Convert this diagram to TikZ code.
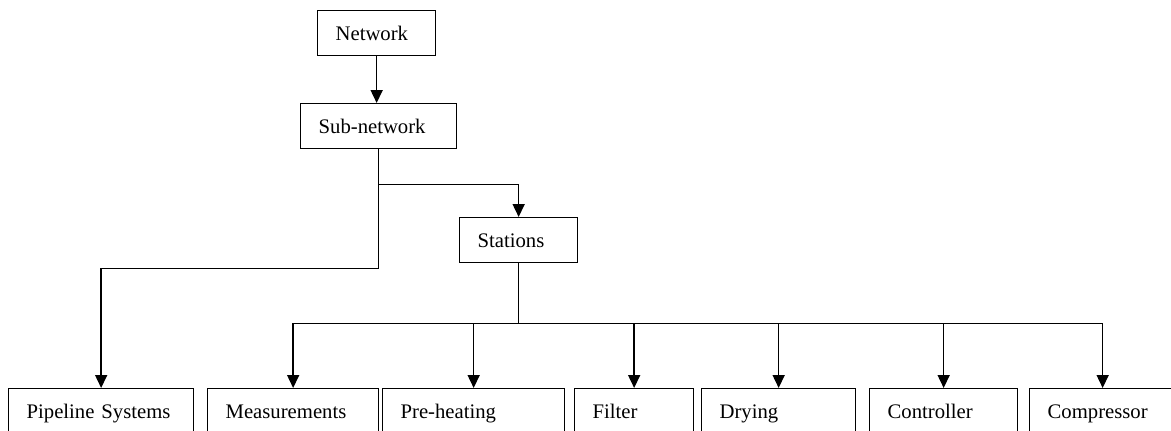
\documentclass[tikz,border=0pt]{standalone}
\usepackage{fontspec}
\setmainfont{Liberation Serif}
\usetikzlibrary{arrows.meta}
\tikzset{block/.style={draw, line width=1.3pt, anchor=north west, minimum height=45pt, inner xsep=18pt, text width=#1, text height=18pt, text depth=3pt, align=left, font=\fontsize{20.7}{24}\selectfont}}

\begin{document}
\begin{tikzpicture}[x=1pt, y=-1pt, >={Triangle[width=12pt,length=13pt]}]
          \useasboundingbox (0,0) rectangle (1171,431);
          \clip (0,0) rectangle (1171,431);

          \node[block=82pt] (Network) at (317,10) {Network};
          \node[block=120pt] (SubNetwork) at (300,103) {Sub-network};
          \node[block=82pt] (Stations) at (459,217) {Stations};

          \node[block=149pt] (Pipeline) at (8,388) {Pipeline Systems};
          \node[block=135pt] (Measurements) at (207,388) {Measurements};
          \node[block=146pt] (Preheating) at (382,388) {Pre-heating};
          \node[block=83pt] (Filter) at (574,388) {Filter};
          \node[block=118pt] (Drying) at (701,388) {Drying};
          \node[block=112pt] (Controller) at (869,388) {Controller};
          \node[block=110pt] (Compressor) at (1029,388) {Compressor};

          \draw[->, line width=1.6pt] (Network.south) to (Network.south |- SubNetwork.north);
          \draw[->, line width=1.6pt] (SubNetwork.south) -- ++(0,35) -| (Stations.north);
          \draw[->, line width=1.6pt] (SubNetwork.south) -- ++(0,119) -| (Pipeline.north);
          \draw[line width=1.6pt] (Stations.south) -- ++(0,60) coordinate (StationsFork);
          \draw[line width=1.6pt] (Measurements.north |- StationsFork) -- (Compressor.north |- StationsFork);
          \foreach \part in {Measurements,Preheating,Filter,Drying,Controller,Compressor}
            \draw[->, line width=1.6pt] (\part.north |- StationsFork) to (\part.north);
        \end{tikzpicture}
\end{document}
